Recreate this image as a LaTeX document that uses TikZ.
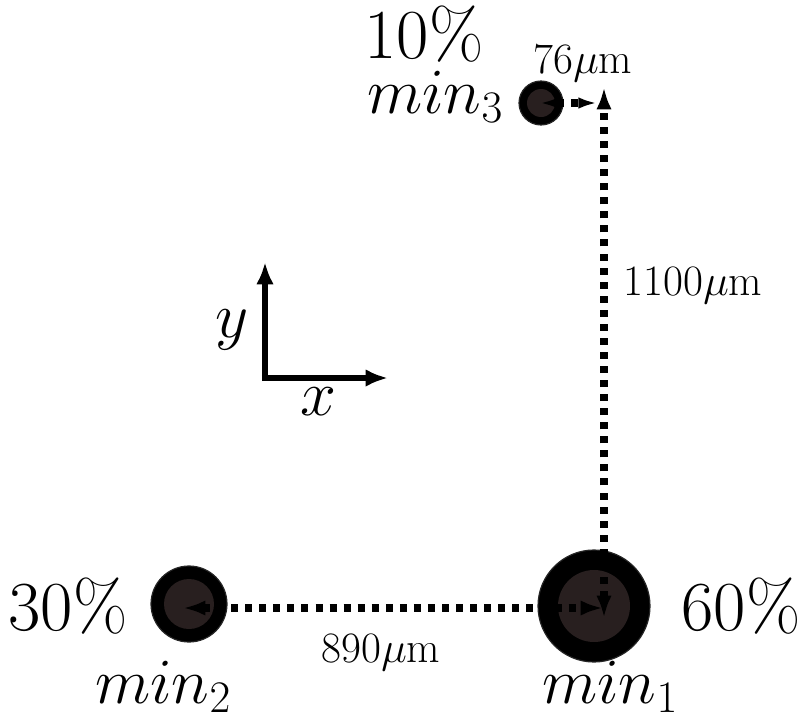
\RequirePackage{fix-cm}
\documentclass[tikz,border=0pt]{standalone}
\usetikzlibrary{arrows.meta}
\definecolor{coreclr}{RGB}{40,31,31}
\def\pxu{0.03cm}
\tikzset{
  outerc/.style={circle, fill=black, draw=black!85, line width=1pt, inner sep=0pt},
  corec/.style={circle, fill=coreclr, inner sep=0pt},
  dotarrow/.style={line width=6pt, dash pattern=on 6pt off 6pt, {Latex[length=19pt,width=13pt]}-{Latex[length=19pt,width=13pt]}},
  axisarrow/.style={line width=5.5pt, -{Latex[length=19pt,width=15pt]}},
  biglbl/.style={font=\fontsize{60}{66}\selectfont, inner sep=0pt, anchor=base},
  mathlbl/.style={font=\fontsize{55}{60}\selectfont, inner sep=0pt, anchor=base},
  midlbl/.style={font=\fontsize{37}{42}\selectfont, inner sep=0pt, anchor=base}
}
\begin{document}
\begin{tikzpicture}[x=0.03cm, y=-0.03cm]
\useasboundingbox (0,0) rectangle (803,726);
% particles
\node[outerc, minimum size=112*\pxu] (min1) at (594,606) {};
\node[corec, minimum size=72*\pxu] (core1) at (594,606) {};
\node[outerc, minimum size=76*\pxu] (min2) at (189,604) {};
\node[corec, minimum size=50*\pxu] (core2) at (189,604) {};
\node[outerc, minimum size=44*\pxu] (min3) at (541,103) {};
\node[corec, minimum size=28*\pxu] (core3) at (541,103) {};
% arrow end points
\coordinate (a2) at (183,608);
\coordinate (a1) at (603,608);
\coordinate (b1) at (604,618);
\coordinate (b3) at (604,87);
\coordinate (c3) at (540,103);
\coordinate (c4) at (597,103);
\draw[dotarrow] (a2) -- (a1);
\draw[dotarrow] (b1) -- (b3);
\draw[dotarrow, {Latex[length=16pt,width=10pt]}-{Latex[length=16pt,width=10pt]}] (c3) -- (c4);
% axes
\coordinate (o) at (265,378);
\coordinate (ytip) at (265,262);
\coordinate (xtip) at (388,378);
\draw[axisarrow] ([yshift=-2.75pt]o) -- (ytip);
\draw[axisarrow] ([xshift=-2.75pt]o) -- (xtip);
\node[mathlbl] (ylbl) at (232,337) {$y$};
\node[mathlbl] (xlbl) at (318,415) {$x$};
% labels
\node[biglbl] (p3) at (424,58) {10\%};
\node[mathlbl] (n3) at (435,113) {$min_3$};
\node[midlbl] (d3) at (583,73) {76$\mu$m};
\node[midlbl] (d1) at (693,295) {1100$\mu$m};
\node[midlbl] (d2) at (381,662) {890$\mu$m};
\node[biglbl] (p2) at (68,630) {30\%};
\node[biglbl] (p1) at (741,630) {60\%};
\node[mathlbl] (n2) at (163,703) {$min_2$};
\node[mathlbl] (n1) at (610,703) {$min_1$};
\end{tikzpicture}
\end{document}
